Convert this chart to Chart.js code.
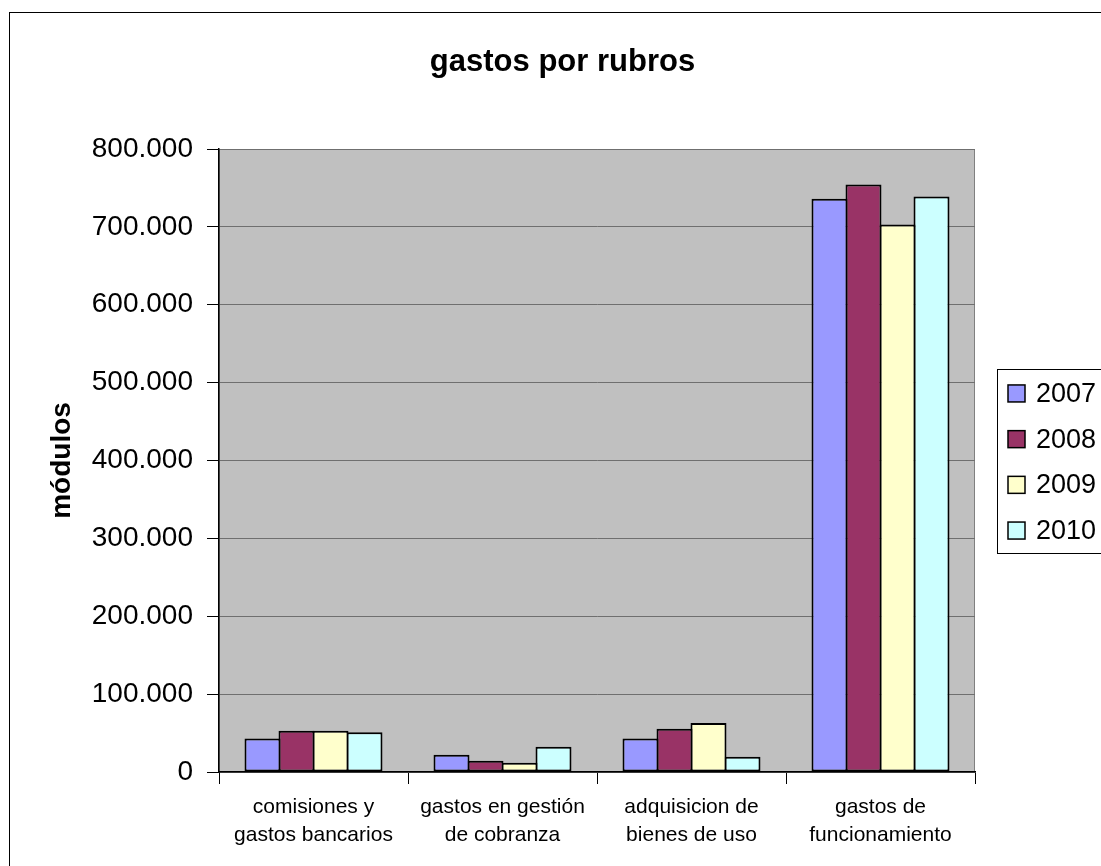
<!DOCTYPE html>
<html>
<head>
<meta charset="utf-8">
<script src="https://cdn.jsdelivr.net/npm/chart.js@4.4.0/dist/chart.umd.min.js"></script>
<style>
html, body { margin: 0; padding: 0; background: #fff; overflow: hidden; }
#marco { position: absolute; left: 9px; top: 12px; width: 1105px; height: 868px; border: 1px solid #000; }
</style>
</head>
<body>
<div id="marco"><canvas id="graficoGastos"></canvas></div>
<script>
// datos
var rubros = [
    ["comisiones y", "gastos bancarios"],
    ["gastos en gestión", "de cobranza"],
    ["adquisicion de", "bienes de uso"],
    ["gastos de", "funcionamiento"]
];
var anios = ["2007", "2008", "2009", "2010"];
var gastos2007 = [43000, 22000, 43000, 736000];
var gastos2008 = [53000, 14500, 55500, 754500];
var gastos2009 = [53000, 12000, 63000, 703000];
var gastos2010 = [51000, 32500, 19500, 739000];
var marcasY = [0, 100000, 200000, 300000, 400000, 500000, 600000, 700000, 800000];

var colores = ['#9999FF', '#993366', '#FFFFCC', '#CCFFFF'];
var series = [gastos2007, gastos2008, gastos2009, gastos2010];
var fuente = 'Arial, "Liberation Sans", sans-serif';

function conPuntos(v) {
    return String(v).replace(/\B(?=(\d{3})+(?!\d))/g, '.');
}

// fondo gris del area de trazado
var fondoPlot = {
    id: 'fondoPlot',
    beforeDraw: function (chart) {
        var a = chart.chartArea, ctx = chart.ctx;
        ctx.save();
        ctx.fillStyle = '#C0C0C0';
        ctx.fillRect(a.left, a.top, a.right - a.left, a.bottom - a.top);
        ctx.strokeStyle = '#808080';
        ctx.lineWidth = 1;
        ctx.strokeRect(a.left + 0.5, a.top + 0.5, a.right - a.left - 1, a.bottom - a.top);
        ctx.restore();
    }
};

// leyenda con recuadro a la derecha (estilo Excel)
var leyendaCaja = {
    id: 'leyendaCaja',
    afterDraw: function (chart) {
        var ctx = chart.ctx, a = chart.chartArea;
        var izq = a.right + 22;
        var medio = (a.top + a.bottom) / 2 + 1.5;
        var paso = 45.7;
        var n = chart.data.datasets.length;
        ctx.save();
        ctx.strokeStyle = '#000';
        ctx.lineWidth = 1;
        ctx.strokeRect(izq + 0.5, medio - 93 + 0.5, 200, 184);
        ctx.font = '27px ' + fuente;
        ctx.textBaseline = 'middle';
        chart.data.datasets.forEach(function (ds, i) {
            var cy = medio + (i - (n - 1) / 2) * paso;
            ctx.fillStyle = ds.backgroundColor;
            ctx.fillRect(izq + 11, cy - 8.5, 17, 17);
            ctx.lineWidth = 1.5;
            ctx.strokeStyle = '#000';
            ctx.strokeRect(izq + 11, cy - 8.5, 17, 17);
            ctx.fillStyle = '#000';
            ctx.fillText(ds.label, izq + 39, cy + 1);
        });
        ctx.restore();
    }
};

var ctx = document.getElementById("graficoGastos");
var grafico = new Chart(ctx, {
    type: 'bar',
    data: {
        labels: rubros,
        datasets: anios.map(function (anio, i) {
            return {
                label: anio,
                data: series[i],
                backgroundColor: colores[i],
                borderColor: '#000',
                borderWidth: 2,
                borderSkipped: false,
                barPercentage: 1.0588,
                categoryPercentage: 0.7196
            };
        })
    },
    plugins: [fondoPlot, leyendaCaja],
    options: {
        responsive: true,
        maintainAspectRatio: false,
        animation: false,
        layout: { padding: 0 },
        plugins: {
            legend: { display: false },
            tooltip: { enabled: false },
            title: {
                display: true,
                text: 'gastos por rubros',
                color: '#000',
                font: { family: fuente, size: 31, weight: 'bold', lineHeight: 1.2 },
                padding: { top: 30.5, bottom: 68.3 }
            }
        },
        scales: {
            x: {
                afterFit: function (scale) { scale.height = 109; },
                grid: {
                    offset: true,
                    drawOnChartArea: false,
                    color: '#000',
                    tickLength: 12
                },
                border: { color: '#000', width: 1.5 },
                ticks: {
                    color: '#000',
                    padding: 10,
                    maxRotation: 0,
                    autoSkip: false,
                    font: { family: fuente, size: 21, lineHeight: 1.3 }
                }
            },
            y: {
                min: 0,
                max: 800000,
                afterFit: function (scale) { scale.width = 209; },
                afterBuildTicks: function (scale) {
                    scale.ticks = marcasY.map(function (v) { return { value: v }; });
                },
                grid: {
                    color: '#6f6f6f',
                    tickColor: '#000',
                    tickLength: 12
                },
                border: { color: '#000', width: 1.5 },
                ticks: {
                    color: '#000',
                    padding: 14,
                    font: { family: fuente, size: 28 },
                    callback: function (value) { return conPuntos(value); }
                },
                title: {
                    display: true,
                    text: 'módulos',
                    color: '#000',
                    font: { family: fuente, size: 28, weight: 'bold', lineHeight: 1.2 },
                    padding: { top: 35, bottom: 0 }
                }
            },
            // eje vacio a la derecha: reserva el lugar de la leyenda
            espacio: {
                type: 'linear',
                position: 'right',
                afterFit: function (scale) { scale.width = 140; },
                grid: { display: false },
                border: { display: false },
                ticks: { display: false }
            }
        }
    }
});
</script>
</body>
</html>
